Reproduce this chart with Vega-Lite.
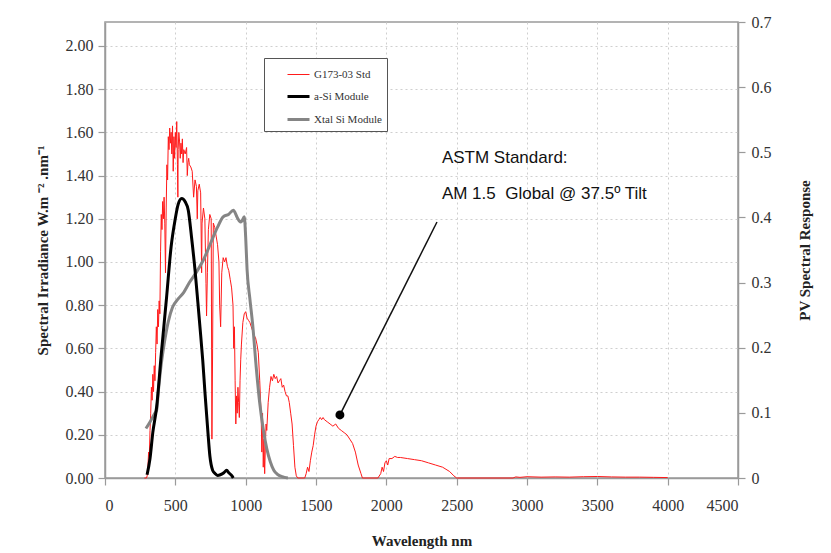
{
  "$schema": "https://vega.github.io/schema/vega-lite/v6.json",
  "width": 633,
  "height": 456,
  "autosize": {"type": "none"},
  "padding": {"left": 105, "top": 22, "right": 93, "bottom": 75},
  "background": "white",
  "config": {
    "view": {"stroke": "#9a9a9a", "strokeWidth": 1.5},
    "font": "Liberation Serif"
  },
  "datasets": {
    "spectrum": [
      {"x":280,"y":0},{"x":295,"y":0},{"x":300,"y":0.01},{"x":305,"y":0.05},{"x":310,"y":0.12},{"x":315,"y":0.10},{"x":320,"y":0.22},{"x":325,"y":0.30},{"x":330,"y":0.42},{"x":335,"y":0.36},{"x":340,"y":0.48},{"x":345,"y":0.40},{"x":350,"y":0.52},{"x":355,"y":0.45},{"x":360,"y":0.58},{"x":365,"y":0.70},{"x":370,"y":0.62},{"x":375,"y":0.78},{"x":380,"y":0.70},{"x":385,"y":0.82},{"x":390,"y":0.76},{"x":395,"y":1.05},{"x":400,"y":1.22},{"x":405,"y":1.15},{"x":410,"y":1.28},{"x":415,"y":1.20},{"x":420,"y":1.30},{"x":425,"y":1.18},{"x":430,"y":0.95},{"x":435,"y":1.25},{"x":440,"y":1.45},{"x":445,"y":1.38},{"x":450,"y":1.58},{"x":455,"y":1.52},{"x":460,"y":1.62},{"x":465,"y":1.55},{"x":470,"y":1.60},{"x":475,"y":1.50},{"x":480,"y":1.63},{"x":485,"y":1.42},{"x":490,"y":1.58},{"x":495,"y":1.48},{"x":500,"y":1.60},{"x":505,"y":1.53},{"x":510,"y":1.65},{"x":515,"y":1.45},{"x":518,"y":1.30},{"x":520,"y":1.52},{"x":525,"y":1.60},{"x":530,"y":1.56},{"x":535,"y":1.48},{"x":540,"y":1.55},{"x":545,"y":1.50},{"x":550,"y":1.57},{"x":555,"y":1.46},{"x":560,"y":1.52},{"x":570,"y":1.50},{"x":580,"y":1.53},{"x":585,"y":1.40},{"x":590,"y":1.46},{"x":595,"y":1.48},{"x":600,"y":1.45},{"x":610,"y":1.44},{"x":620,"y":1.42},{"x":630,"y":1.30},{"x":640,"y":1.38},{"x":650,"y":1.35},{"x":656,"y":1.20},{"x":660,"y":1.33},{"x":670,"y":1.36},{"x":680,"y":1.32},{"x":687,"y":0.95},{"x":690,"y":1.18},{"x":700,"y":1.25},{"x":710,"y":1.20},{"x":718,"y":0.90},{"x":722,"y":0.75},{"x":728,"y":0.95},{"x":735,"y":1.15},{"x":745,"y":1.22},{"x":755,"y":1.20},{"x":760,"y":0.18},{"x":765,"y":0.60},{"x":770,"y":1.18},{"x":780,"y":1.16},{"x":790,"y":1.12},{"x":800,"y":1.08},{"x":810,"y":1.00},{"x":815,"y":0.80},{"x":822,"y":0.70},{"x":830,"y":0.95},{"x":840,"y":1.02},{"x":850,"y":1.00},{"x":860,"y":1.02},{"x":870,"y":0.98},{"x":880,"y":0.96},{"x":890,"y":0.92},{"x":900,"y":0.88},{"x":910,"y":0.80},{"x":915,"y":0.60},{"x":920,"y":0.70},{"x":925,"y":0.45},{"x":930,"y":0.25},{"x":935,"y":0.38},{"x":940,"y":0.30},{"x":945,"y":0.42},{"x":950,"y":0.35},{"x":955,"y":0.28},{"x":960,"y":0.45},{"x":965,"y":0.55},{"x":970,"y":0.62},{"x":980,"y":0.72},{"x":990,"y":0.76},{"x":1000,"y":0.77},{"x":1010,"y":0.74},{"x":1020,"y":0.73},{"x":1030,"y":0.72},{"x":1040,"y":0.70},{"x":1050,"y":0.68},{"x":1060,"y":0.66},{"x":1070,"y":0.65},{"x":1080,"y":0.62},{"x":1090,"y":0.58},{"x":1100,"y":0.45},{"x":1110,"y":0.30},{"x":1115,"y":0.12},{"x":1120,"y":0.30},{"x":1125,"y":0.05},{"x":1130,"y":0.18},{"x":1135,"y":0.02},{"x":1140,"y":0.15},{"x":1145,"y":0.25},{"x":1150,"y":0.22},{"x":1160,"y":0.35},{"x":1170,"y":0.42},{"x":1180,"y":0.47},{"x":1190,"y":0.45},{"x":1200,"y":0.48},{"x":1210,"y":0.46},{"x":1220,"y":0.47},{"x":1230,"y":0.44},{"x":1240,"y":0.45},{"x":1250,"y":0.46},{"x":1260,"y":0.42},{"x":1270,"y":0.43},{"x":1280,"y":0.40},{"x":1290,"y":0.38},{"x":1300,"y":0.38},{"x":1310,"y":0.35},{"x":1320,"y":0.30},{"x":1330,"y":0.25},{"x":1340,"y":0.15},{"x":1350,"y":0.05},{"x":1360,"y":0.01},{"x":1370,"y":0},{"x":1420,"y":0},{"x":1430,"y":0.02},{"x":1440,"y":0.05},{"x":1450,"y":0.03},{"x":1460,"y":0.08},{"x":1470,"y":0.12},{"x":1480,"y":0.15},{"x":1490,"y":0.20},{"x":1500,"y":0.24},{"x":1510,"y":0.26},{"x":1520,"y":0.27},{"x":1530,"y":0.28},{"x":1540,"y":0.27},{"x":1550,"y":0.28},{"x":1560,"y":0.27},{"x":1580,"y":0.26},{"x":1600,"y":0.25},{"x":1620,"y":0.24},{"x":1640,"y":0.25},{"x":1660,"y":0.23},{"x":1680,"y":0.22},{"x":1700,"y":0.21},{"x":1720,"y":0.20},{"x":1740,"y":0.18},{"x":1760,"y":0.16},{"x":1780,"y":0.12},{"x":1800,"y":0.06},{"x":1820,"y":0.02},{"x":1830,"y":0},{"x":1940,"y":0},{"x":1960,"y":0.02},{"x":1970,"y":0.05},{"x":1980,"y":0.03},{"x":1990,"y":0.07},{"x":2000,"y":0.08},{"x":2010,"y":0.06},{"x":2020,"y":0.09},{"x":2040,"y":0.09},{"x":2060,"y":0.10},{"x":2080,"y":0.095},{"x":2100,"y":0.095},{"x":2150,"y":0.09},{"x":2200,"y":0.085},{"x":2250,"y":0.08},{"x":2300,"y":0.07},{"x":2350,"y":0.06},{"x":2400,"y":0.05},{"x":2450,"y":0.03},{"x":2480,"y":0.01},{"x":2500,"y":0},{"x":2900,"y":0},{"x":2920,"y":0.005},{"x":2950,"y":0.003},{"x":3000,"y":0.006},{"x":3100,"y":0.004},{"x":3200,"y":0.005},{"x":3300,"y":0.004},{"x":3400,"y":0.006},{"x":3500,"y":0.007},{"x":3600,"y":0.005},{"x":3700,"y":0.004},{"x":3800,"y":0.004},{"x":3900,"y":0.003},{"x":4000,"y":0.002}
    ],
    "pv": [
      {"s":"Xtal Si Module","x":291,"r":0.076},{"s":"Xtal Si Module","x":320,"r":0.086},{"s":"Xtal Si Module","x":350,"r":0.098},{"s":"Xtal Si Module","x":367,"r":0.104},{"s":"Xtal Si Module","x":380,"r":0.135},{"s":"Xtal Si Module","x":400,"r":0.175},{"s":"Xtal Si Module","x":420,"r":0.205},{"s":"Xtal Si Module","x":450,"r":0.240},{"s":"Xtal Si Module","x":480,"r":0.262},{"s":"Xtal Si Module","x":520,"r":0.275},{"s":"Xtal Si Module","x":560,"r":0.285},{"s":"Xtal Si Module","x":600,"r":0.300},{"s":"Xtal Si Module","x":650,"r":0.316},{"s":"Xtal Si Module","x":700,"r":0.335},{"s":"Xtal Si Module","x":750,"r":0.360},{"s":"Xtal Si Module","x":800,"r":0.385},{"s":"Xtal Si Module","x":840,"r":0.401},{"s":"Xtal Si Module","x":880,"r":0.405},{"s":"Xtal Si Module","x":912,"r":0.411},{"s":"Xtal Si Module","x":940,"r":0.400},{"s":"Xtal Si Module","x":960,"r":0.393},{"s":"Xtal Si Module","x":975,"r":0.395},{"s":"Xtal Si Module","x":990,"r":0.401},{"s":"Xtal Si Module","x":1000,"r":0.370},{"s":"Xtal Si Module","x":1010,"r":0.320},{"s":"Xtal Si Module","x":1030,"r":0.275},{"s":"Xtal Si Module","x":1050,"r":0.235},{"s":"Xtal Si Module","x":1075,"r":0.170},{"s":"Xtal Si Module","x":1100,"r":0.115},{"s":"Xtal Si Module","x":1125,"r":0.075},{"s":"Xtal Si Module","x":1150,"r":0.045},{"s":"Xtal Si Module","x":1175,"r":0.025},{"s":"Xtal Si Module","x":1200,"r":0.012},{"s":"Xtal Si Module","x":1230,"r":0.005},{"s":"Xtal Si Module","x":1260,"r":0.002},{"s":"Xtal Si Module","x":1300,"r":0},
      {"s":"a-Si Module","x":299,"r":0.005},{"s":"a-Si Module","x":320,"r":0.03},{"s":"a-Si Module","x":340,"r":0.07},{"s":"a-Si Module","x":367,"r":0.109},{"s":"a-Si Module","x":400,"r":0.19},{"s":"a-Si Module","x":438,"r":0.278},{"s":"a-Si Module","x":470,"r":0.355},{"s":"a-Si Module","x":498,"r":0.396},{"s":"a-Si Module","x":520,"r":0.420},{"s":"a-Si Module","x":545,"r":0.429},{"s":"a-Si Module","x":570,"r":0.424},{"s":"a-Si Module","x":592,"r":0.411},{"s":"a-Si Module","x":615,"r":0.37},{"s":"a-Si Module","x":640,"r":0.319},{"s":"a-Si Module","x":660,"r":0.27},{"s":"a-Si Module","x":675,"r":0.232},{"s":"a-Si Module","x":695,"r":0.18},{"s":"a-Si Module","x":711,"r":0.13},{"s":"a-Si Module","x":730,"r":0.075},{"s":"a-Si Module","x":746,"r":0.033},{"s":"a-Si Module","x":765,"r":0.012},{"s":"a-Si Module","x":782,"r":0.007},{"s":"a-Si Module","x":800,"r":0.004},{"s":"a-Si Module","x":820,"r":0.005},{"s":"a-Si Module","x":845,"r":0.008},{"s":"a-Si Module","x":865,"r":0.012},{"s":"a-Si Module","x":880,"r":0.008},{"s":"a-Si Module","x":900,"r":0.004},{"s":"a-Si Module","x":912,"r":0}
    ]
  },
  "layer": [
    {
      "encoding": {
        "x": {"field": "x", "type": "quantitative", "scale": {"domain": [0, 4500], "nice": false, "zero": false},
          "axis": {"title": "Wavelength nm", "values": [0,500,1000,1500,2000,2500,3000,3500,4000,4500], "format": "d",
            "labelFont": "Liberation Serif", "labelFontSize": 16, "labelColor": "#333", "labelPadding": 12,
            "titleFont": "Liberation Serif", "titleFontSize": 15, "titleFontWeight": "bold", "titleColor": "#222", "titlePadding": 20,
            "domainColor": "#9a9a9a", "domainWidth": 1.5, "tickColor": "#9a9a9a", "tickSize": 7, "tickWidth": 1.2,
            "grid": true, "gridColor": "#cfcfcf", "gridDash": [2, 3], "gridWidth": 1}},
        "y": {"field": "y", "type": "quantitative", "scale": {"domain": [0, 2.111], "nice": false, "zero": false},
          "axis": {"title": "Spectral Irradiance W.m ⁻² .nm⁻¹", "orient": "left", "values": [0,0.2,0.4,0.6,0.8,1.0,1.2,1.4,1.6,1.8,2.0], "format": ".2f",
            "labelFont": "Liberation Serif", "labelFontSize": 16, "labelColor": "#333", "labelPadding": 5,
            "titleFont": "Liberation Serif", "titleFontSize": 15, "titleFontWeight": "bold", "titleColor": "#222", "titlePadding": 15,
            "domainColor": "#9a9a9a", "domainWidth": 1.5, "tickColor": "#9a9a9a", "tickSize": 7, "tickWidth": 1.2,
            "grid": true, "gridColor": "#cfcfcf", "gridDash": [2, 3], "gridWidth": 1}}
      },
      "layer": [
        {
          "data": {"name": "spectrum"},
          "transform": [{"calculate": "'G173-03 Std'", "as": "s"}],
          "mark": {"type": "line", "interpolate": "linear"},
          "encoding": {
            "color": {"field": "s", "type": "nominal",
              "scale": {"domain": ["G173-03 Std", "a-Si Module", "Xtal Si Module"], "range": ["#ff1a1a", "#000000", "#858585"]},
              "legend": {"orient": "none", "legendX": 159, "legendY": 36, "title": null, "strokeColor": "#555", "fillColor": "white", "padding": 5,
                "symbolType": "stroke", "symbolSize": 484, "symbolOffset": 17, "labelOffset": 3, "rowPadding": 4,
                "labelFont": "Liberation Serif", "labelFontSize": 11, "labelColor": "#333"}},
            "strokeWidth": {"field": "s", "type": "nominal",
              "scale": {"type": "ordinal", "domain": ["G173-03 Std", "a-Si Module", "Xtal Si Module"], "range": [1, 3, 3]},
              "legend": {"orient": "none", "legendX": 159, "legendY": 36, "title": null, "strokeColor": "#555", "fillColor": "white", "padding": 5,
                "symbolType": "stroke", "symbolSize": 484, "symbolOffset": 17, "labelOffset": 3, "rowPadding": 4,
                "labelFont": "Liberation Serif", "labelFontSize": 11, "labelColor": "#333"}}
          }
        },
        {
          "data": {"values": [{"x": 1670, "y": 0.292, "x2": 2360, "y2": 1.185}]},
          "mark": {"type": "rule", "color": "#111", "strokeWidth": 1.5},
          "encoding": {"x2": {"field": "x2"}, "y2": {"field": "y2"}}
        },
        {
          "data": {"values": [{"x": 1670, "y": 0.292}]},
          "mark": {"type": "point", "filled": true, "color": "#000", "size": 80, "opacity": 1},
          "encoding": {}
        },
        {
          "data": {"values": [{"x": 2395, "y": 1.4815, "t": "ASTM Standard:"}, {"x": 2395, "y": 1.315, "t": "AM 1.5\u00a0 Global @ 37.5º Tilt"}]},
          "mark": {"type": "text", "align": "left", "baseline": "middle", "font": "Liberation Sans", "fontSize": 17, "color": "#111"},
          "encoding": {"text": {"field": "t"}}
        }
      ]
    },
    {
      "data": {"name": "pv"},
      "mark": {"type": "line", "interpolate": "monotone"},
      "encoding": {
        "x": {"field": "x", "type": "quantitative", "scale": {"domain": [0, 4500], "nice": false, "zero": false},
          "axis": {"title": "Wavelength nm", "values": [0,500,1000,1500,2000,2500,3000,3500,4000,4500], "format": "d",
            "labelFont": "Liberation Serif", "labelFontSize": 16, "labelColor": "#333", "labelPadding": 12,
            "titleFont": "Liberation Serif", "titleFontSize": 15, "titleFontWeight": "bold", "titleColor": "#222", "titlePadding": 20,
            "domainColor": "#9a9a9a", "domainWidth": 1.5, "tickColor": "#9a9a9a", "tickSize": 7, "tickWidth": 1.2,
            "grid": true, "gridColor": "#cfcfcf", "gridDash": [2, 3], "gridWidth": 1}},
        "y": {"field": "r", "type": "quantitative", "scale": {"domain": [0, 0.7], "nice": false, "zero": false},
          "axis": {"title": "PV Spectral Response", "orient": "right", "values": [0,0.1,0.2,0.3,0.4,0.5,0.6,0.7], "format": "~g",
            "labelFont": "Liberation Serif", "labelFontSize": 16, "labelColor": "#333", "labelPadding": 6,
            "titleFont": "Liberation Serif", "titleFontSize": 15, "titleFontWeight": "bold", "titleColor": "#222", "titlePadding": 26,
            "titleAngle": 270, "titleBaseline": "top",
            "domainColor": "#9a9a9a", "domainWidth": 1.5, "tickColor": "#9a9a9a", "tickSize": 7, "tickWidth": 1.2, "grid": false}},
        "color": {"field": "s", "type": "nominal",
          "scale": {"domain": ["G173-03 Std", "a-Si Module", "Xtal Si Module"], "range": ["#ff1a1a", "#000000", "#858585"]},
          "legend": {"orient": "none", "legendX": 159, "legendY": 36, "title": null, "strokeColor": "#555", "fillColor": "white", "padding": 5,
            "symbolType": "stroke", "symbolSize": 484, "symbolOffset": 17, "labelOffset": 3, "rowPadding": 4,
            "labelFont": "Liberation Serif", "labelFontSize": 11, "labelColor": "#333"}},
        "strokeWidth": {"field": "s", "type": "nominal",
          "scale": {"type": "ordinal", "domain": ["G173-03 Std", "a-Si Module", "Xtal Si Module"], "range": [1, 3, 3]},
          "legend": {"orient": "none", "legendX": 159, "legendY": 36, "title": null, "strokeColor": "#555", "fillColor": "white", "padding": 5,
            "symbolType": "stroke", "symbolSize": 484, "symbolOffset": 17, "labelOffset": 3, "rowPadding": 4,
            "labelFont": "Liberation Serif", "labelFontSize": 11, "labelColor": "#333"}}
      }
    }
  ],
  "resolve": {"scale": {"y": "independent"}}
}
